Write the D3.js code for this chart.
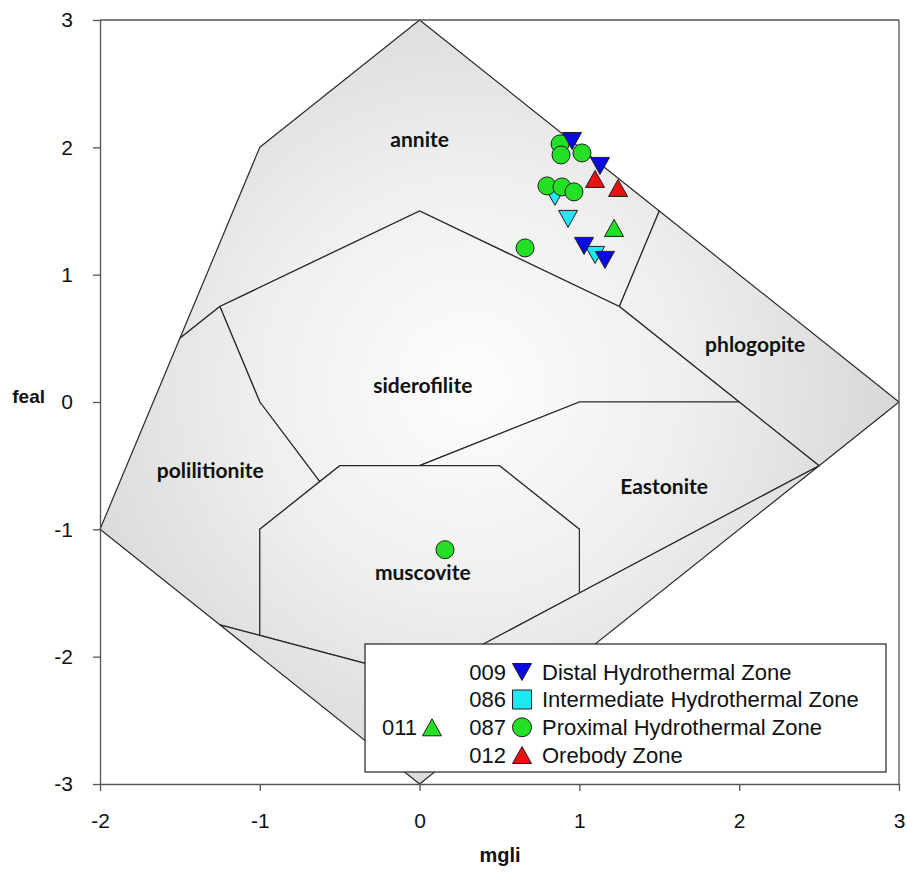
<!DOCTYPE html>
<html>
<head>
<meta charset="utf-8">
<script src="https://cdn.jsdelivr.net/npm/d3@7"></script>
<style>
  html, body { margin: 0; padding: 0; background: #fff; }
  svg { display: block; }
</style>
</head>
<body>
<svg id="chart" width="907" height="872"></svg>
<script>
// ---------------- data ----------------
const xTicks = [-2, -1, 0, 1, 2, 3];
const yTicks = [-3, -2, -1, 0, 1, 2, 3];
const xTitle = "mgli";
const yTitle = "feal";

// classification fields (vertices in mgli, feal)
const fieldAnnite = [[0,3],[1.5,1.5],[1.25,0.75],[0,1.5],[-1.25,0.75],[-1.5,0.5],[-1,2]];
const fieldPhlogopite = [[1.5,1.5],[3,0],[2.5,-0.5],[2,0],[1.25,0.75]];
const fieldSiderofilite = [[-1.25,0.75],[0,1.5],[1.25,0.75],[2,0],[1,0],[0,-0.5],[-0.5,-0.5],[-0.625,-0.625],[-1,0]];
const fieldEastonite = [[0,-0.5],[1,0],[2,0],[2.5,-0.5],[1,-1.5],[1,-1],[0.5,-0.5]];
const fieldPolilitionite = [[-1.5,0.5],[-1.25,0.75],[-1,0],[-0.625,-0.625],[-1,-1],[-1,-1.833],[-1.25,-1.75],[-2,-1]];
const fieldMuscovite = [[-1,-1],[-0.5,-0.5],[0.5,-0.5],[1,-1],[1,-1.5],[0,-2.167],[-1,-1.833]];
const fieldLower = [[-1.25,-1.75],[-1,-1.833],[0,-2.167],[1,-1.5],[2.5,-0.5],[0,-3]];

const fieldNames = ["annite","siderofilite","polilitionite","muscovite","Eastonite","phlogopite"];
const fieldLabelPos = [[0,2.0],[0.02,0.07],[-1.31,-0.6],[0.02,-1.4],[1.53,-0.72],[2.1,0.39]];

// samples
const distal009 = [[0.954,2.05],[1.129,1.854],[1.029,1.226],[1.16,1.116]];
const intermediate086 = [[0.847,1.611],[0.929,1.438],[1.098,1.155]];
const proximal087 = [[0.879,2.027],[0.885,1.94],[1.016,1.956],[0.797,1.697],[0.891,1.689],[0.966,1.65],[0.66,1.21],[0.159,-1.16]];
const orebody012 = [[1.098,1.752],[1.242,1.681]];
const sample011 = [[1.217,1.367]];

const legendCodes = ["009","086","087","012"];
const legendLabels = ["Distal Hydrothermal Zone","Intermediate Hydrothermal Zone","Proximal Hydrothermal Zone","Orebody Zone"];

// ---------------- drawing ----------------
const svg = d3.select("#chart");
const x = d3.scaleLinear().domain([-2, 3]).range([100, 899]);
const y = d3.scaleLinear().domain([-3, 3]).range([784, 20]);

const COL = { blue: "#0a0ae2", cyan: "#20e8f2", green: "#24e024", red: "#e81212" };
const stroke = "#1e1e1e";

const defs = svg.append("defs");
const grad = defs.append("radialGradient")
  .attr("id", "fieldGrad").attr("gradientUnits", "userSpaceOnUse")
  .attr("cx", 470).attr("cy", 385).attr("r", 470);
grad.append("stop").attr("offset", 0).attr("stop-color", "#fdfdfd");
grad.append("stop").attr("offset", 0.45).attr("stop-color", "#efefef");
grad.append("stop").attr("offset", 1).attr("stop-color", "#d3d3d3");

const line = d3.line().x(d => x(d[0])).y(d => y(d[1]));
const fields = [fieldAnnite, fieldPhlogopite, fieldSiderofilite, fieldEastonite, fieldPolilitionite, fieldMuscovite, fieldLower];
svg.append("g").selectAll("path").data(fields).join("path")
  .attr("d", d => line(d) + "Z")
  .attr("fill", "url(#fieldGrad)")
  .attr("stroke", "#2a2a2a")
  .attr("stroke-width", 1.2)
  .attr("stroke-linejoin", "round");

// frame + axes
const axisCol = "#555";
svg.append("line").attr("x1", x(-2)).attr("x2", x(3)).attr("y1", y(3)).attr("y2", y(3))
  .attr("stroke", axisCol).attr("stroke-width", 1.3);
svg.append("line").attr("x1", x(3)).attr("x2", x(3)).attr("y1", y(3)).attr("y2", y(-3))
  .attr("stroke", axisCol).attr("stroke-width", 1.3);

const gx = svg.append("g").attr("transform", `translate(0,${y(-3)})`)
  .call(d3.axisBottom(x).tickValues(xTicks).tickFormat(d3.format("d")).tickSize(7).tickPadding(22).tickSizeOuter(0));
const gy = svg.append("g").attr("transform", `translate(${x(-2)},0)`)
  .call(d3.axisLeft(y).tickValues(yTicks).tickFormat(d3.format("d")).tickSize(7).tickPadding(20).tickSizeOuter(0));
[gx, gy].forEach(g => {
  g.select(".domain").attr("stroke", axisCol).attr("stroke-width", 1.3);
  g.selectAll(".tick line").attr("stroke", axisCol).attr("stroke-width", 1.3);
  g.selectAll(".tick text").attr("fill", "#111")
    .style("font-family", "'Liberation Sans', Arial, sans-serif").style("font-size", "21px");
});
gy.selectAll(".tick text").text(d => d < 0 ? "-" + Math.abs(d) : d);
gx.selectAll(".tick text").text(d => d < 0 ? "-" + Math.abs(d) : d);

svg.append("text").attr("x", 45).attr("y", 403).attr("text-anchor", "end")
  .style("font-family", "'Liberation Sans', Arial, sans-serif").style("font-size", "19px").style("font-weight", "bold")
  .attr("fill", "#111").text(yTitle);
svg.append("text").attr("x", 500).attr("y", 862).attr("text-anchor", "middle")
  .style("font-family", "'Liberation Sans', Arial, sans-serif").style("font-size", "20px").style("font-weight", "bold")
  .attr("fill", "#111").text(xTitle);

// field labels
svg.append("g").selectAll("text").data(fieldNames).join("text")
  .attr("x", (d, i) => x(fieldLabelPos[i][0]))
  .attr("y", (d, i) => y(fieldLabelPos[i][1]))
  .attr("text-anchor", "middle")
  .style("font-family", "Lato, 'Open Sans', sans-serif").style("font-size", "21px").style("font-weight", "bold")
  .attr("fill", "#111").text(d => d);

// marker shapes
const W = 19, H = 17;
const downTri = `M${-W/2},${-H/2}L${W/2},${-H/2}L0,${H/2}Z`;
const upTri = `M${-W/2},${H/2}L${W/2},${H/2}L0,${-H/2}Z`;
const square = `M-9.5,-9.5L9.5,-9.5L9.5,9.5L-9.5,9.5Z`;

function drawPaths(data, path, fill) {
  svg.append("g").selectAll("path").data(data).join("path")
    .attr("transform", d => `translate(${x(d[0])},${y(d[1])})`)
    .attr("d", path).attr("fill", fill).attr("stroke", stroke).attr("stroke-width", 1);
}
drawPaths(intermediate086, downTri, COL.cyan);
svg.append("g").selectAll("circle").data(proximal087).join("circle")
  .attr("cx", d => x(d[0])).attr("cy", d => y(d[1])).attr("r", 9)
  .attr("fill", COL.green).attr("stroke", stroke).attr("stroke-width", 1);
drawPaths(distal009, downTri, COL.blue);
drawPaths(orebody012, upTri, COL.red);
drawPaths(sample011, upTri, COL.green);

// legend
const lg = svg.append("g");
lg.append("rect").attr("x", 365).attr("y", 644).attr("width", 521).attr("height", 128)
  .attr("fill", "#fff").attr("stroke", "#333").attr("stroke-width", 1.3);
const rowY = [672, 699.5, 727.3, 755];
const legendFont = "'Liberation Sans', Arial, sans-serif";
const legendShapes = [downTri, square, null, upTri];
const legendFills = [COL.blue, COL.cyan, COL.green, COL.red];
legendCodes.forEach((c, i) => {
  lg.append("text").attr("x", 506).attr("y", rowY[i]).attr("dy", "0.36em").attr("text-anchor", "end")
    .style("font-family", legendFont).style("font-size", "22px").attr("fill", "#111").text(c);
  if (legendShapes[i]) {
    lg.append("path").attr("transform", `translate(522,${rowY[i]})`).attr("d", legendShapes[i])
      .attr("fill", legendFills[i]).attr("stroke", stroke).attr("stroke-width", 1);
  } else {
    lg.append("circle").attr("cx", 522).attr("cy", rowY[i]).attr("r", 9.5)
      .attr("fill", legendFills[i]).attr("stroke", stroke).attr("stroke-width", 1);
  }
  lg.append("text").attr("x", 542).attr("y", rowY[i]).attr("dy", "0.36em")
    .style("font-family", legendFont).style("font-size", "22px").attr("fill", "#111").text(legendLabels[i]);
});
lg.append("text").attr("x", 417).attr("y", rowY[2]).attr("dy", "0.36em").attr("text-anchor", "end")
  .style("font-family", legendFont).style("font-size", "22px").attr("fill", "#111").text("011");
lg.append("path").attr("transform", `translate(432,${rowY[2]})`).attr("d", upTri)
  .attr("fill", COL.green).attr("stroke", stroke).attr("stroke-width", 1);
</script>
</body>
</html>
